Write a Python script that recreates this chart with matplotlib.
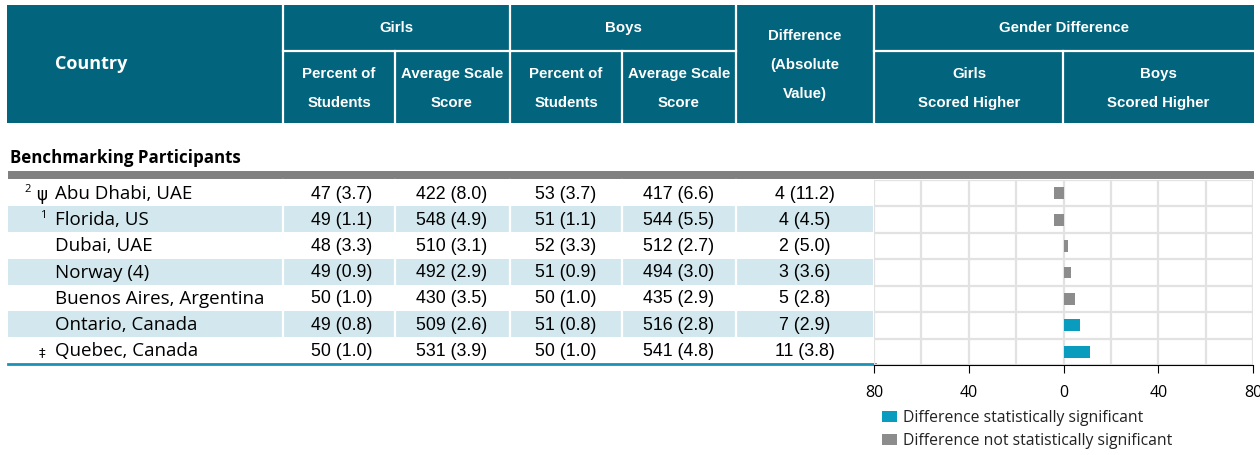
import numpy as np
import matplotlib.pyplot as plt
from matplotlib.patches import Rectangle

countries = ['Abu Dhabi, UAE', 'Florida, US', 'Dubai, UAE', 'Norway (4)',
             'Buenos Aires, Argentina', 'Ontario, Canada', 'Quebec, Canada']
sup_notes = ['2', '1', '', '', '', '', '']
sym_notes = ['\u03c8', '', '', '', '', '', '\u2021']
girls_pct = ['47 (3.7)', '49 (1.1)', '48 (3.3)', '49 (0.9)', '50 (1.0)', '49 (0.8)', '50 (1.0)']
girls_score = ['422 (8.0)', '548 (4.9)', '510 (3.1)', '492 (2.9)', '430 (3.5)', '509 (2.6)', '531 (3.9)']
boys_pct = ['53 (3.7)', '51 (1.1)', '52 (3.3)', '51 (0.9)', '50 (1.0)', '51 (0.8)', '50 (1.0)']
boys_score = ['417 (6.6)', '544 (5.5)', '512 (2.7)', '494 (3.0)', '435 (2.9)', '516 (2.8)', '541 (4.8)']
diff_text = ['4 (11.2)', '4 (4.5)', '2 (5.0)', '3 (3.6)', '5 (2.8)', '7 (2.9)', '11 (3.8)']
# signed difference: negative = girls scored higher
diff_signed = [-4, -4, 2, 3, 5, 7, 11]
significant = [False, False, False, False, False, True, True]
axis_ticks = [-80, -40, 0, 40, 80]
axis_labels = ['80', '40', '0', '40', '80']

teal = '#02657d'
shade = '#d3e8ee'
c_sig = '#0a9cbf'
c_ns = '#8c8c8c'
narrow = ['Liberation Sans', 'DejaVu Sans']
body = ['Open Sans', 'DejaVu Sans']

fig = plt.figure(figsize=(12.6, 4.56), dpi=100)
ax = fig.add_axes([0, 0, 1, 1])
ax.set_xlim(0, 1260)
ax.set_ylim(456, 0)
ax.axis('off')

# header block
ax.add_patch(Rectangle((7, 6), 1247, 118, color=teal, lw=0))
for x in [283, 510, 736, 874]:
    ax.plot([x, x], [6, 124], color='white', lw=1.6)
for x in [395, 622, 1063]:
    ax.plot([x, x], [52, 124], color='white', lw=1.6)
ax.plot([283, 736], [52, 52], color='white', lw=1.6)
ax.plot([874, 1254], [52, 52], color='white', lw=1.6)

hd = dict(color='white', fontweight='bold', family=narrow, fontsize=10.8,
          ha='center', va='center')
ax.text(55, 64, 'Country', color='white', fontweight='bold', family=body,
        fontsize=13, ha='left', va='center')
ax.text(396, 28, 'Girls', **hd)
ax.text(623, 28, 'Boys', **hd)
ax.text(1064, 28, 'Gender Difference', **hd)
ax.text(805, 36, 'Difference', **hd)
ax.text(805, 65, '(Absolute', **hd)
ax.text(805, 94, 'Value)', **hd)
for cx, l1, l2 in [(339, 'Percent of', 'Students'), (452, 'Average Scale', 'Score'),
                   (566, 'Percent of', 'Students'), (679, 'Average Scale', 'Score'),
                   (969, 'Girls', 'Scored Higher'), (1158, 'Boys', 'Scored Higher')]:
    ax.text(cx, 74, l1, **hd)
    ax.text(cx, 103, l2, **hd)

# section label and grey rule
ax.text(10, 158, 'Benchmarking Participants', fontweight='bold', family=body,
        fontsize=12.2, ha='left', va='center', color='black')
ax.add_patch(Rectangle((8, 172), 1246, 8, color='#808080', lw=0))

top = 181
rh = 26.2
n = len(countries)
for i in range(n):
    yc = top + rh * (i + 0.5)
    if i % 2 == 1:
        ax.add_patch(Rectangle((8, top + rh * i), 865, rh, color=shade, lw=0))
    if sup_notes[i]:
        xs = 28 if sym_notes[i] else 43
        ax.text(xs, yc - 5, sup_notes[i], family=body, fontsize=8,
                ha='center', va='center')
    if sym_notes[i]:
        ax.text(42, yc + 1, sym_notes[i], family=['DejaVu Sans'],
                fontsize=12 if i == 0 else 9.5, ha='center', va='center')
    ax.text(55, yc, countries[i], family=body, fontsize=13.5, ha='left', va='center')
    for cx, vals in [(342, girls_pct), (452, girls_score), (566, boys_pct),
                     (679, boys_score), (805, diff_text)]:
        ax.text(cx, yc, vals[i], family=narrow, fontsize=12.8, ha='center', va='center')
for x in [283, 395, 510, 622, 736]:
    ax.plot([x, x], [top, top + rh * n], color='white', lw=1.6)
ax.plot([8, 875], [top + rh * n + 1, top + rh * n + 1], color='#1a93b8', lw=2)

# bar chart panel
bx = fig.add_axes([874 / 1260, 1 - 366 / 456, 379 / 1260, (366 - top) / 456])
bx.set_xlim(-80, 80)
bx.set_ylim(n - 0.5, -0.5)
for v in np.arange(-80, 81, 20):
    bx.axvline(v, color='#e2e2e2', lw=1.6, zorder=0)
for k in range(n + 1):
    bx.axhline(k - 0.5, color='#e2e2e2', lw=1.6, zorder=0)
colors = [c_sig if s else c_ns for s in significant]
bx.barh(np.arange(n), diff_signed, height=0.45, color=colors, zorder=2)
for s in ['top', 'left', 'right']:
    bx.spines[s].set_visible(False)
bx.spines['bottom'].set_color('black')
bx.spines['bottom'].set_linewidth(0.8)
bx.set_yticks([])
bx.set_xticks(axis_ticks)
bx.set_xticklabels(axis_labels, family=body, fontsize=11.5)
bx.tick_params(axis='x', length=6, width=0.8, pad=8)
bx.patch.set_alpha(0)

# legend
for yy, c, lab in [(412, c_sig, 'Difference statistically significant'),
                   (435, c_ns, 'Difference not statistically significant')]:
    ax.add_patch(Rectangle((882, yy), 15, 11, color=c, lw=0))
    ax.text(903, yy + 6, lab, family=body, fontsize=11.3, ha='left', va='center',
            color='#222222')

fig.savefig('out.png', dpi=100)
